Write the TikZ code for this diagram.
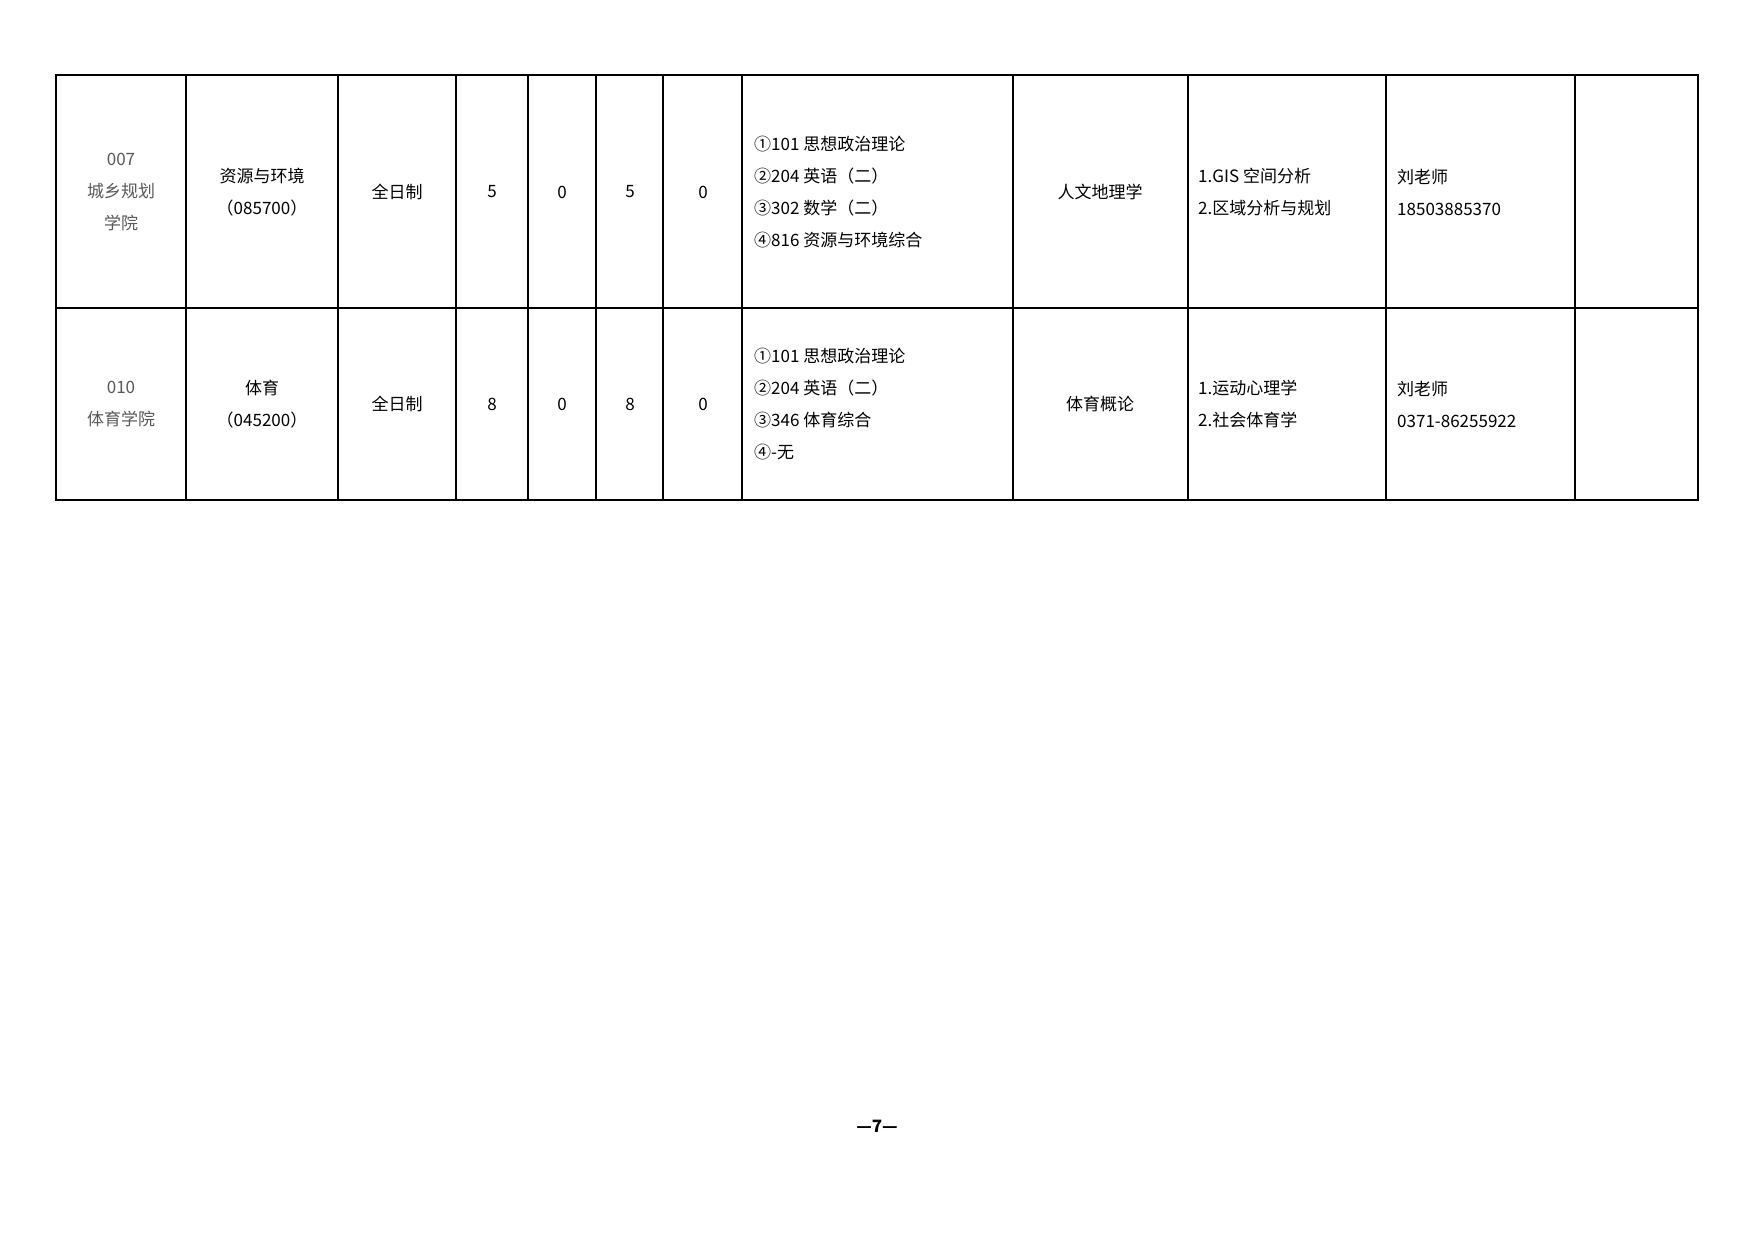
\documentclass[tikz,border=0pt]{standalone}
\usepackage{fontspec}
\setmainfont{Noto Sans CJK SC}
\begin{document}
\begin{tikzpicture}[x=1pt,y=-1pt,
  cell/.style={font=\fontsize{17}{32}\selectfont,align=center,inner sep=0pt},
  lcell/.style={font=\fontsize{17}{32}\selectfont,align=left,anchor=west,inner sep=0pt},
  grid/.style={line width=1.6pt}]
\useasboundingbox[fill=white] (0,0) rectangle (1754,1240);
\def\ys{75,308,500}
\foreach \x in {56,186,338,456,528,596,663,742,1013,1188,1386,1575,1698} \draw[grid] (\x,75) -- (\x,500);
\foreach \y in {75,308,500} \draw[grid] (56,\y) -- (1698,\y);
\draw[line width=2pt] (56,75) rectangle (1698,500);
% row 1
\node[cell,text=black!65] (a1) at (121,192) {007\\城乡规划\\学院};
\node[cell] (b1) at (262,192) {资源与环境\\（085700）};
\node[cell] (c1) at (397,192) {全日制};
\node[cell] (d1) at (492,192) {5};
\node[cell] (e1) at (562,192) {0};
\node[cell] (f1) at (630,192) {5};
\node[cell] (g1) at (703,192) {0};
\node[lcell] (h1) at (754,192) {①101 思想政治理论\\②204 英语（二）\\③302 数学（二）\\④816 资源与环境综合};
\node[cell] (i1) at (1100,192) {人文地理学};
\node[lcell] (j1) at (1198,192) {1.GIS 空间分析\\2.区域分析与规划};
\node[lcell] (k1) at (1397,192) {刘老师\\18503885370};
% row 2
\node[cell,text=black!65] (a2) at (121,404) {010\\体育学院};
\node[cell] (b2) at (262,404) {体育\\（045200）};
\node[cell] (c2) at (397,404) {全日制};
\node[cell] (d2) at (492,404) {8};
\node[cell] (e2) at (562,404) {0};
\node[cell] (f2) at (630,404) {8};
\node[cell] (g2) at (703,404) {0};
\node[lcell] (h2) at (754,404) {①101 思想政治理论\\②204 英语（二）\\③346 体育综合\\④-无};
\node[cell] (i2) at (1100,404) {体育概论};
\node[lcell] (j2) at (1198,404) {1.运动心理学\\2.社会体育学};
\node[lcell] (k2) at (1397,404) {刘老师\\0371-86255922};
\node[cell,font=\fontsize{17}{20}\selectfont\bfseries] (pg) at (877,1126) {—7—};
\end{tikzpicture}
\end{document}
